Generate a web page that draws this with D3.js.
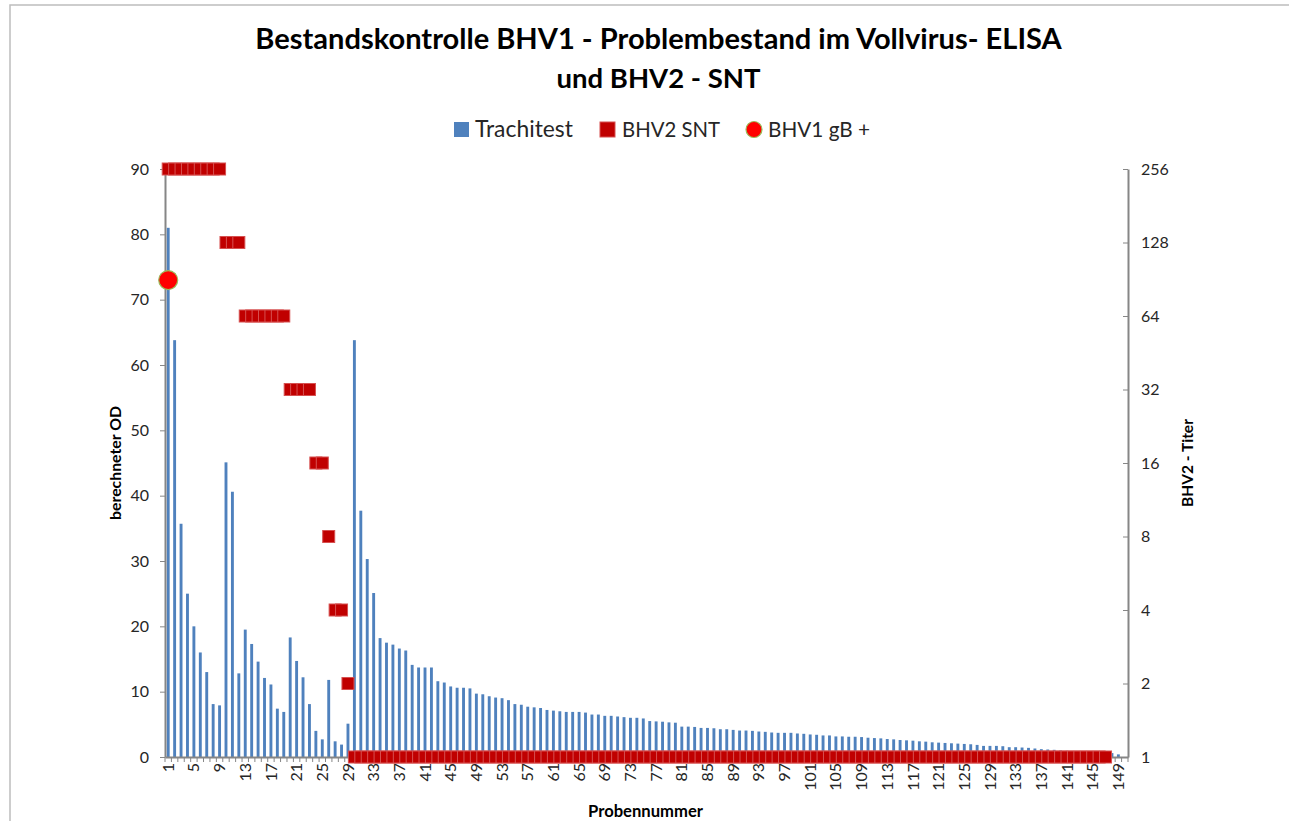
<!DOCTYPE html>
<html>
<head>
<meta charset="utf-8">
<script src="https://cdn.jsdelivr.net/npm/d3@7"></script>
<style>
  body { margin: 0; background: #fff; }
  svg { display: block; font-family: Lato, "Open Sans", sans-serif; }
</style>
</head>
<body>
<div id="chart"></div>
<script>
// ============================================
// DATA
// ============================================

// Probennummer 1..150
const probes = d3.range(1, 151);

// Trachitest, berechneter OD (left axis)
const trachitest = [
  81, 63.8, 35.7, 25, 20, 16, 13, 8.1, 7.9, 45.1,
  40.6, 12.8, 19.5, 17.3, 14.6, 12.1, 11.1, 7.4, 6.9, 18.3,
  14.7, 12.2, 8.1, 4.0, 2.7, 11.8, 2.4, 1.9, 5.1, 63.8,
  37.7, 30.3, 25.1, 18.2, 17.5, 17.2, 16.6, 16.3, 14.1, 13.7,
  13.7, 13.7, 11.6, 11.4, 10.8, 10.6, 10.6, 10.5, 9.7, 9.6,
  9.3, 9.1, 9.0, 8.7, 8.1, 8.0, 7.7, 7.6, 7.5, 7.2,
  7.1, 7.0, 6.9, 6.9, 6.9, 6.8, 6.5, 6.5, 6.3, 6.3,
  6.2, 6.1, 6.0, 6.0, 5.9, 5.5, 5.45, 5.4, 5.3, 5.25,
  4.65, 4.65, 4.6, 4.45, 4.45, 4.4, 4.25, 4.25, 4.15, 4.05,
  4.05, 4.0, 3.9, 3.85, 3.75, 3.7, 3.7, 3.7, 3.6, 3.55,
  3.45, 3.4, 3.3, 3.3, 3.15, 3.15, 3.1, 3.1, 3.05, 2.95,
  2.9, 2.85, 2.75, 2.7, 2.6, 2.55, 2.5, 2.4, 2.35, 2.25,
  2.2, 2.15, 2.1, 2.05, 2.0, 1.95, 1.85, 1.7, 1.7, 1.7,
  1.65, 1.5, 1.5, 1.45, 1.4, 1.3, 1.2, 1.15, 1.1, 1.0,
  0.95, 0.9, 0.85, 0.8, 0.75, 0.7, 0.65, 0.6, 0.4, 0
];

// BHV2 SNT titer (right axis, log2); null = no value
const bhv2Snt = [
  256, 256, 256, 256, 256, 256, 256, 256, 256, 128,
  128, 128, 64, 64, 64, 64, 64, 64, 64, 32,
  32, 32, 32, 16, 16, 8, 4, 4, 2, 1,
  1, 1, 1, 1, 1, 1, 1, 1, 1, 1,
  1, 1, 1, 1, 1, 1, 1, 1, 1, 1,
  1, 1, 1, 1, 1, 1, 1, 1, 1, 1,
  1, 1, 1, 1, 1, 1, 1, 1, 1, 1,
  1, 1, 1, 1, 1, 1, 1, 1, 1, 1,
  1, 1, 1, 1, 1, 1, 1, 1, 1, 1,
  1, 1, 1, 1, 1, 1, 1, 1, 1, 1,
  1, 1, 1, 1, 1, 1, 1, 1, 1, 1,
  1, 1, 1, 1, 1, 1, 1, 1, 1, 1,
  1, 1, 1, 1, 1, 1, 1, 1, 1, 1,
  1, 1, 1, 1, 1, 1, 1, 1, 1, 1,
  1, 1, 1, 1, 1, 1, 1, null, null, null
];

// BHV1 gB positive samples (left axis value)
const bhv1gbProbes = [1];
const bhv1gbValues = [73];

const leftTicks = [0, 10, 20, 30, 40, 50, 60, 70, 80, 90];
const rightTicks = [1, 2, 4, 8, 16, 32, 64, 128, 256];
const xLabelProbes = probes.filter((p) => (p - 1) % 4 === 0);

// ============================================
// LAYOUT
// ============================================

const WIDTH = 1289;
const HEIGHT = 821;
const plot = { left: 165, right: 1128, top: 169, bottom: 757 };
const AXIS_COLOR = "#868686";
const TEXT_COLOR = "#262626";

const svg = d3
  .select("#chart")
  .append("svg")
  .attr("width", WIDTH)
  .attr("height", HEIGHT);

// outer frame
svg.append("rect")
  .attr("x", 10).attr("y", 5)
  .attr("width", WIDTH + 20).attr("height", HEIGHT + 20)
  .attr("fill", "#fff")
  .attr("stroke", "#bdbdbd")
  .attr("stroke-width", 1.5);

// scale text so it spans a measured width
function fitWidth(sel, targetWidth) {
  const len = sel.node().getComputedTextLength();
  const fs = parseFloat(sel.attr("font-size"));
  sel.attr("font-size", (fs * targetWidth) / len);
  return sel;
}

// ============================================
// SCALES
// ============================================

const x = d3.scaleBand().domain(probes).range([plot.left, plot.right]);
const yLeft = d3.scaleLinear().domain([0, 90]).range([plot.bottom, plot.top]);
const yRight = d3.scaleLog().base(2).domain([1, 256]).range([plot.bottom, plot.top]);
const cx = (p) => x(p) + x.bandwidth() / 2;

// ============================================
// TITLE & LEGEND
// ============================================

const title1 = svg.append("text")
  .attr("x", 658.5).attr("y", 49)
  .attr("text-anchor", "middle")
  .attr("font-size", 30).attr("font-weight", "bold")
  .attr("fill", "#000")
  .text("Bestandskontrolle BHV1 - Problembestand im Vollvirus- ELISA");
fitWidth(title1, 807);

const title2 = svg.append("text")
  .attr("x", 658.5).attr("y", 88)
  .attr("text-anchor", "middle")
  .attr("font-size", 30).attr("font-weight", "bold")
  .attr("fill", "#000")
  .text("und BHV2 - SNT");
fitWidth(title2, 204);

const legend = svg.append("g");
legend.append("rect")
  .attr("x", 454).attr("y", 122).attr("width", 15).attr("height", 15)
  .attr("fill", "#4f81bd");
fitWidth(legend.append("text")
  .attr("x", 475).attr("y", 137).attr("font-size", 21).attr("fill", TEXT_COLOR)
  .text("Trachitest"), 98);
legend.append("rect")
  .attr("x", 600).attr("y", 122).attr("width", 15).attr("height", 15)
  .attr("fill", "#c00000").attr("stroke", "#d65050").attr("stroke-width", 1);
fitWidth(legend.append("text")
  .attr("x", 622).attr("y", 137).attr("font-size", 21).attr("fill", TEXT_COLOR)
  .text("BHV2 SNT"), 98);
legend.append("circle")
  .attr("cx", 754).attr("cy", 129.5).attr("r", 8)
  .attr("fill", "#ff0000").attr("stroke", "#9bbb59").attr("stroke-width", 1.2);
fitWidth(legend.append("text")
  .attr("x", 768).attr("y", 137).attr("font-size", 21).attr("fill", TEXT_COLOR)
  .text("BHV1 gB +"), 102);

// ============================================
// BARS
// ============================================

const barWidth = x.bandwidth() * 0.45;
svg.append("g")
  .selectAll("rect")
  .data(probes)
  .join("rect")
  .attr("x", (p) => cx(p) - barWidth / 2)
  .attr("y", (p, i) => yLeft(trachitest[i]))
  .attr("width", barWidth)
  .attr("height", (p, i) => plot.bottom - yLeft(trachitest[i]))
  .attr("fill", "#4f81bd");

// ============================================
// AXES
// ============================================

const leftAxis = svg.append("g")
  .attr("transform", `translate(${plot.left},0)`)
  .call(d3.axisLeft(yLeft).tickValues(leftTicks).tickSize(5).tickPadding(11).tickSizeOuter(0));

const rightAxis = svg.append("g")
  .attr("transform", `translate(${plot.right},0)`)
  .call(d3.axisRight(yRight).tickValues(rightTicks).tickFormat(d3.format("d"))
    .tickSize(-5).tickPadding(13).tickSizeOuter(0));

const bottomAxis = svg.append("g")
  .attr("transform", `translate(0,${plot.bottom})`)
  .call(d3.axisBottom(x).tickValues(xLabelProbes).tickSize(0).tickSizeOuter(0));

// category boundary ticks
bottomAxis.append("g")
  .selectAll("line")
  .data(probes.concat([null]))
  .join("line")
  .attr("x1", (p) => (p === null ? plot.right : x(p)))
  .attr("x2", (p) => (p === null ? plot.right : x(p)))
  .attr("y1", 0).attr("y2", 5)
  .attr("stroke", AXIS_COLOR).attr("stroke-width", 1);

bottomAxis.selectAll(".tick text")
  .attr("transform", "rotate(-90)")
  .attr("text-anchor", "end")
  .attr("x", -6)
  .attr("y", 0)
  .attr("dy", "0.35em");

[leftAxis, rightAxis, bottomAxis].forEach((ax) => {
  ax.select(".domain").attr("stroke", AXIS_COLOR).attr("stroke-width", 2);
  ax.selectAll(".tick line").attr("stroke", AXIS_COLOR).attr("stroke-width", 1);
  ax.selectAll(".tick text")
    .attr("font-family", "Lato, sans-serif")
    .attr("font-size", 16)
    .attr("fill", TEXT_COLOR);
});

// axis titles
fitWidth(svg.append("text")
  .attr("transform", `translate(121,${(plot.top + plot.bottom) / 2}) rotate(-90)`)
  .attr("text-anchor", "middle")
  .attr("font-size", 14).attr("font-weight", "bold").attr("fill", "#000")
  .text("berechneter OD"), 114);

fitWidth(svg.append("text")
  .attr("transform", `translate(1193,${(plot.top + plot.bottom) / 2}) rotate(-90)`)
  .attr("text-anchor", "middle")
  .attr("font-size", 14).attr("font-weight", "bold").attr("fill", "#000")
  .text("BHV2 - Titer"), 88);

fitWidth(svg.append("text")
  .attr("x", 645.5).attr("y", 817)
  .attr("text-anchor", "middle")
  .attr("font-size", 14).attr("font-weight", "bold").attr("fill", "#000")
  .text("Probennummer"), 115);

// ============================================
// MARKERS
// ============================================

const SQ = 12;
svg.append("g")
  .selectAll("rect")
  .data(probes.filter((p, i) => bhv2Snt[i] != null))
  .join("rect")
  .attr("x", (p) => cx(p) - SQ / 2)
  .attr("y", (p) => yRight(bhv2Snt[p - 1]) - SQ / 2)
  .attr("width", SQ)
  .attr("height", SQ)
  .attr("fill", "#c00000")
  .attr("stroke", "#d65050")
  .attr("stroke-width", 1);

svg.append("g")
  .selectAll("circle")
  .data(bhv1gbProbes)
  .join("circle")
  .attr("cx", (p) => cx(p))
  .attr("cy", (p, i) => yLeft(bhv1gbValues[i]))
  .attr("r", 9.5)
  .attr("fill", "#ff0000")
  .attr("stroke", "#9bbb59")
  .attr("stroke-width", 1.2);
</script>
</body>
</html>
